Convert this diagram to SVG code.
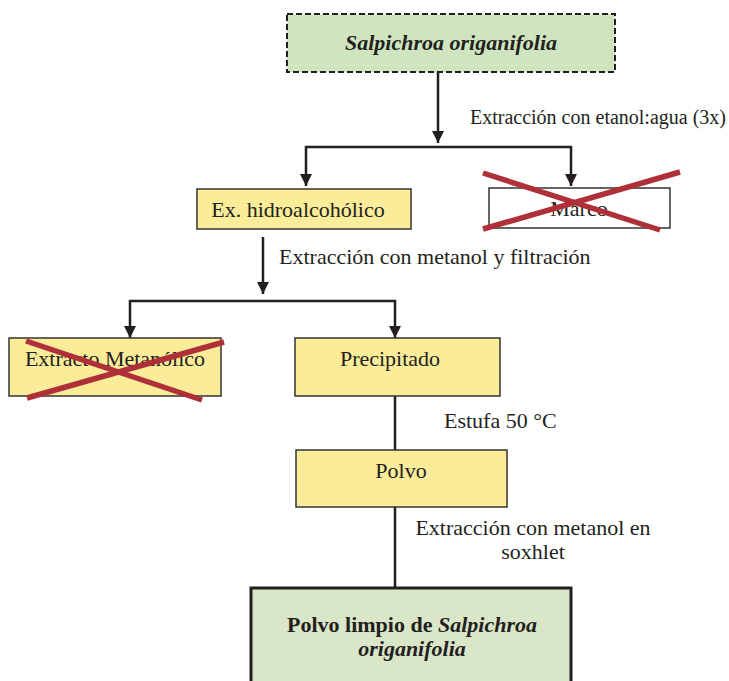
<svg xmlns="http://www.w3.org/2000/svg" width="729" height="681" viewBox="0 0 729 681">
<style>
.t{font-family:"Liberation Serif","Times New Roman",serif;font-size:22px;fill:#231f20}
.s{font-size:20px}
.box{stroke:#333;stroke-width:1.5}
.y{fill:#fbec9a}
.ln{stroke:#231f20;stroke-width:2.5;fill:none}
.x{stroke:#b0303a;stroke-width:5.5;stroke-linecap:butt}
</style>
<rect width="729" height="681" fill="#fff"/>
<g id="connectors">
<line class="ln" x1="438" y1="72" x2="438" y2="143"/>
<path d="M432,131 h12 l-6,12 z" fill="#231f20"/>
<polyline class="ln" points="306,186 306,147 571,147 571,186"/>
<path d="M300,174 h12 l-6,12 z M565,174 h12 l-6,12 z" fill="#231f20"/>
<line class="ln" x1="263" y1="237" x2="263" y2="294"/>
<path d="M257,282 h12 l-6,12 z" fill="#231f20"/>
<polyline class="ln" points="130,338 130,301 395,301 395,338"/>
<path d="M124,326 h12 l-6,12 z M389,326 h12 l-6,12 z" fill="#231f20"/>
<line class="ln" x1="395" y1="396" x2="395" y2="450"/>
<line class="ln" x1="395" y1="507" x2="395" y2="588"/>
</g>
<g id="labels">
<text class="t s" x="470" y="124">Extracción con etanol:agua (3x)</text>
<text class="t" x="279" y="264">Extracción con metanol y filtración</text>
<text class="t" x="444" y="428">Estufa 50 °C</text>
<text class="t" x="533" y="535" text-anchor="middle">Extracción con metanol en</text>
<text class="t" x="533" y="559" text-anchor="middle">soxhlet</text>
</g>
<g id="n1">
<rect x="287" y="14" width="328" height="58" fill="#cfe5c0" stroke="#231f20" stroke-width="2" stroke-dasharray="6,3"/>
<text class="t" x="451" y="50" text-anchor="middle" font-weight="bold" font-style="italic">Salpichroa origanifolia</text>
</g>
<g id="n2">
<rect class="box y" x="197" y="189" width="214" height="40"/>
<text class="t" x="298" y="217" text-anchor="middle">Ex. hidroalcohólico</text>
</g>
<g id="n3">
<rect class="box" x="489" y="188" width="181" height="40" fill="#fff"/>
<text class="t" x="579" y="216" text-anchor="middle">Marco</text>
<line class="x" x1="483" y1="173" x2="660" y2="230"/>
<line class="x" x1="680" y1="172" x2="483" y2="229"/>
</g>
<g id="n4">
<rect class="box y" x="9" y="338" width="212" height="58"/>
<text class="t" x="115" y="366" text-anchor="middle">Extracto Metanólico</text>
<line class="x" x1="26" y1="341" x2="202" y2="400"/>
<line class="x" x1="224" y1="342" x2="27" y2="398"/>
</g>
<g id="n5">
<rect class="box y" x="295" y="338" width="205" height="58"/>
<text class="t" x="390" y="366" text-anchor="middle">Precipitado</text>
</g>
<g id="n6">
<rect class="box y" x="296" y="450" width="211" height="57"/>
<text class="t" x="401" y="478" text-anchor="middle">Polvo</text>
</g>
<g id="n7">
<rect x="251" y="588" width="320" height="100" fill="#d9e6c8" stroke="#231f20" stroke-width="3"/>
<text class="t" x="412" y="632" text-anchor="middle" font-weight="bold">Polvo limpio de <tspan font-style="italic">Salpichroa</tspan></text>
<text class="t" x="412" y="656" text-anchor="middle" font-weight="bold" font-style="italic">origanifolia</text>
</g>
</svg>
